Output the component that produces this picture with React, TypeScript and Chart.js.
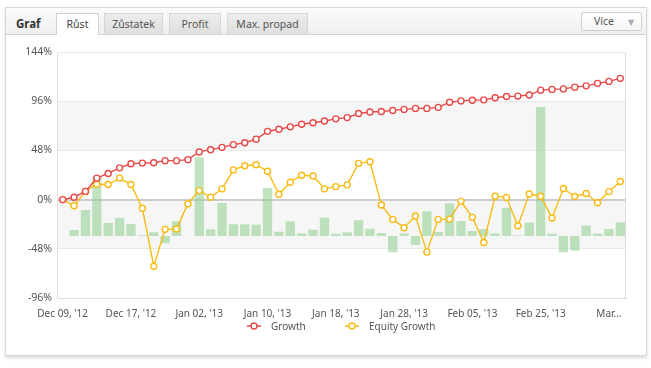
import React, { useEffect, useRef } from "react";
import { Chart, registerables } from "chart.js";

Chart.register(...registerables);

const categories = [
  "Dec 09, '12", "Dec 10, '12", "Dec 11, '12", "Dec 12, '12", "Dec 13, '12", "Dec 14, '12",
  "Dec 17, '12", "Dec 18, '12", "Dec 19, '12", "Dec 20, '12", "Dec 21, '12", "Dec 28, '12",
  "Jan 02, '13", "Jan 03, '13", "Jan 04, '13", "Jan 07, '13", "Jan 08, '13", "Jan 09, '13",
  "Jan 10, '13", "Jan 11, '13", "Jan 14, '13", "Jan 15, '13", "Jan 16, '13", "Jan 17, '13",
  "Jan 18, '13", "Jan 21, '13", "Jan 22, '13", "Jan 23, '13", "Jan 24, '13", "Jan 25, '13",
  "Jan 28, '13", "Jan 29, '13", "Jan 30, '13", "Jan 31, '13", "Feb 01, '13", "Feb 04, '13",
  "Feb 05, '13", "Feb 06, '13", "Feb 07, '13", "Feb 08, '13", "Feb 11, '13", "Feb 22, '13",
  "Feb 25, '13", "Feb 26, '13", "Feb 27, '13", "Feb 28, '13", "Mar 01, '13", "Mar 04, '13",
  "Mar 05, '13", "Mar 06, '13",
];

const growth = [
  0, 2.3, 8, 21, 25.5, 31, 35, 35.6, 36, 38, 38, 39, 46.5, 48.7, 51, 53.6, 55.5, 59,
  66.6, 68.6, 71, 73.5, 75, 76.7, 78.8, 80, 84, 85.5, 86, 87, 88, 89, 89, 90, 95, 96.3,
  97, 97.3, 99.3, 100.6, 101, 102, 106.8, 107.5, 108, 109.7, 111, 113.4, 115.3, 118.3,
];

const equityGrowth = [
  0, -6, 8, 15, 14.7, 21, 14.7, -8.5, -65, -29, -28.7, -4, 8.8, 2.3, 10.5, 29, 33, 34,
  27.7, 5.2, 17, 23.8, 23, 10.5, 12.7, 14.4, 35.3, 37, -5.2, -19.3, -27.4, -16, -51, -19.3,
  -19, -1.7, -17.3, -41.8, 3.3, 2, -25.5, 5.5, 3.3, -18, 10.8, 3, 5.9, -3, 7.8, 17.6,
];

const dailyBars = [
  0, 6, 26, 59, 13, 18, 12, 0.7, 3.7, -7.3, 14.7, 0, 78.7, 6.7, 33, 11.7, 11.7, 11.3,
  48, 4.3, 14.7, 2.7, 6.3, 18.3, 2.2, 3.7, 15.7, 7.3, 3, -16.3, 2.7, -9, 24.7, 4, 32.7,
  15, 5, 7, 2.7, 28, 0.7, 13.3, 129, 2.3, -16.3, -14.7, 10.3, 2.3, 7, 13.7,
];

const yMin = -96;
const yMax = 144;
const yStep = 48;
const barAxisMin = -62;
const barAxisMax = 184;
const tickEvery = 6;
const shadedBands = [
  [48, 96],
  [-48, 0],
];

const tabs = ["Růst", "Zůstatek", "Profit", "Max. propad"];
const seriesNames = ["Growth", "Equity Growth"];

const RED = "#e94848";
const YELLOW = "#f7bb14";
const FONT = "'Noto Sans', 'DejaVu Sans', sans-serif";

function LegendIcon({ color }: { color: string }) {
  return (
    <svg width="14" height="10" style={{ display: "block" }}>
      <line x1="0" y1="5" x2="14" y2="5" stroke={color} strokeWidth="1.5" />
      <circle cx="7" cy="5" r="3" fill="#fff" stroke={color} strokeWidth="1.4" />
    </svg>
  );
}

export default function App() {
  const canvasRef = useRef<HTMLCanvasElement | null>(null);

  useEffect(() => {
    const canvas = canvasRef.current;
    if (!canvas) return;

    const bandsPlugin = {
      id: "bands",
      beforeDraw(chart: any) {
        const { ctx, chartArea, scales } = chart;
        const y = scales.y;
        ctx.save();
        ctx.fillStyle = "#f6f6f6";
        shadedBands.forEach(([a, b]) => {
          const top = y.getPixelForValue(b);
          const bottom = y.getPixelForValue(a);
          ctx.fillRect(chartArea.left, top, chartArea.right - chartArea.left, bottom - top);
        });
        ctx.restore();
      },
      beforeDatasetsDraw(chart: any) {
        const { ctx, chartArea } = chart;
        ctx.save();
        ctx.strokeStyle = "#dddddd";
        ctx.lineWidth = 1;
        ctx.beginPath();
        ctx.moveTo(chartArea.right - 0.5, chartArea.top);
        ctx.lineTo(chartArea.right - 0.5, chartArea.bottom);
        ctx.stroke();
        ctx.restore();
      },
    };

    const chart = new Chart(canvas, {
      type: "bar",
      data: {
        labels: categories,
        datasets: [
          {
            type: "line",
            label: seriesNames[0],
            data: growth,
            yAxisID: "y",
            borderColor: RED,
            backgroundColor: "#ffffff",
            pointBackgroundColor: "#ffffff",
            pointBorderColor: RED,
            pointRadius: 3,
            pointBorderWidth: 1.4,
            borderWidth: 1.4,
            tension: 0,
            order: 0,
          } as any,
          {
            type: "line",
            label: seriesNames[1],
            data: equityGrowth,
            yAxisID: "y",
            borderColor: YELLOW,
            backgroundColor: "#ffffff",
            pointBackgroundColor: "#ffffff",
            pointBorderColor: YELLOW,
            pointRadius: 3,
            pointBorderWidth: 1.4,
            borderWidth: 1.4,
            tension: 0,
            order: 1,
          } as any,
          {
            type: "bar",
            label: "Daily",
            data: dailyBars,
            yAxisID: "y2",
            backgroundColor: "rgba(140, 205, 140, 0.55)",
            borderWidth: 0,
            barPercentage: 0.82,
            categoryPercentage: 1,
            order: 2,
          } as any,
        ],
      },
      options: {
        animation: false,
        responsive: false,
        maintainAspectRatio: false,
        layout: { padding: { top: 17, right: 20, left: 0, bottom: 0 } },
        plugins: {
          legend: { display: false },
          tooltip: { enabled: false },
        },
        scales: {
          x: {
            offset: true,
            grid: { display: false },
            border: { display: true, color: "#dddddd" },
            ticks: {
              autoSkip: false,
              maxRotation: 0,
              minRotation: 0,
              padding: 2,
              color: "#555555",
              font: { family: FONT, size: 10 },
              callback: (_v: any, i: number) => {
                if (i % tickEvery !== 0) return "";
                const label = categories[i];
                if (i + tickEvery >= categories.length) return label.split(" ")[0] + "...";
                return label;
              },
            },
            afterFit: (s: any) => {
              s.height = 22;
            },
          },
          y: {
            position: "left",
            min: yMin,
            max: yMax,
            ticks: {
              stepSize: yStep,
              padding: 5,
              color: "#555555",
              font: { family: FONT, size: 10.5 },
              callback: (v: any) => v + "%",
            },
            grid: {
              drawTicks: false,
              color: (c: any) => (c.tick && c.tick.value === 0 ? "#cccccc" : "#e8e8e8"),
              lineWidth: (c: any) => (c.tick && c.tick.value === 0 ? 2 : 1),
            },
            border: { display: true, color: "#dddddd" },
            afterFit: (s: any) => {
              s.width = 51;
            },
          },
          y2: {
            display: false,
            min: barAxisMin,
            max: barAxisMax,
          },
        },
      } as any,
      plugins: [bandsPlugin],
    });

    return () => chart.destroy();
  }, []);

  const tabPos = [
    { left: 56, width: 43 },
    { left: 104, width: 59 },
    { left: 169, width: 52 },
    { left: 227, width: 81 },
  ];

  return (
    <div style={{ position: "absolute", left: 0, top: 0, width: 651, height: 368, fontFamily: FONT, background: "#fff" }}>
      <div
        style={{
          position: "absolute",
          left: 5,
          top: 7,
          width: 642,
          height: 349,
          boxSizing: "border-box",
          border: "1px solid #d8d8d8",
          boxShadow: "0 2px 3px rgba(0,0,0,0.15)",
          background: "#fff",
        }}
      />
      <div
        style={{
          position: "absolute",
          left: 6,
          top: 8,
          width: 640,
          height: 26,
          borderBottom: "1px solid #d3d3d3",
          background: "linear-gradient(#fbfbfb, #efefef)",
        }}
      />
      <div style={{ position: "absolute", left: 16, top: 16, lineHeight: "16px", fontSize: 11.5, fontWeight: "bold", color: "#333" }}>
        Graf
      </div>
      {tabs.map((t, i) => {
        const active = i === 0;
        return (
          <div
            key={t}
            style={{
              position: "absolute",
              left: tabPos[i].left,
              top: 13,
              width: tabPos[i].width,
              height: active ? 22 : 21,
              boxSizing: "border-box",
              border: active ? "1px solid #d0d0d0" : "1px solid #d6d6d6",
              borderBottom: "none",
              background: active ? "#ffffff" : "linear-gradient(#ececec, #dfdfdf)",
              color: active ? "#444" : "#555",
              fontSize: 10.5,
              lineHeight: "20px",
              textAlign: "center",
            }}
          >
            {t}
          </div>
        );
      })}
      <div
        style={{
          position: "absolute",
          left: 581,
          top: 12,
          width: 61,
          height: 19,
          boxSizing: "border-box",
          border: "1px solid #cfcfcf",
          borderRadius: 2,
          background: "linear-gradient(#ffffff, #f4f4f4)",
        }}
      >
        <span style={{ position: "absolute", left: 12, top: 0, lineHeight: "17px", fontSize: 10.5, color: "#555" }}>Více</span>
        <span style={{ position: "absolute", left: 46, top: 0, lineHeight: "17px", fontSize: 8, color: "#aaa" }}>▼</span>
      </div>
      <canvas
        ref={canvasRef}
        width={640}
        height={285}
        style={{ position: "absolute", left: 6, top: 35, width: 640, height: 285 }}
      />
      {[
        { left: 247, color: RED, name: seriesNames[0] },
        { left: 345, color: YELLOW, name: seriesNames[1] },
      ].map((it) => (
        <div
          key={it.name}
          style={{ position: "absolute", left: it.left, top: 320, height: 12, display: "flex", alignItems: "center" }}
        >
          <LegendIcon color={it.color} />
          <span style={{ marginLeft: 10, fontSize: 10, lineHeight: "12px", color: "#555", whiteSpace: "nowrap" }}>{it.name}</span>
        </div>
      ))}
    </div>
  );
}
